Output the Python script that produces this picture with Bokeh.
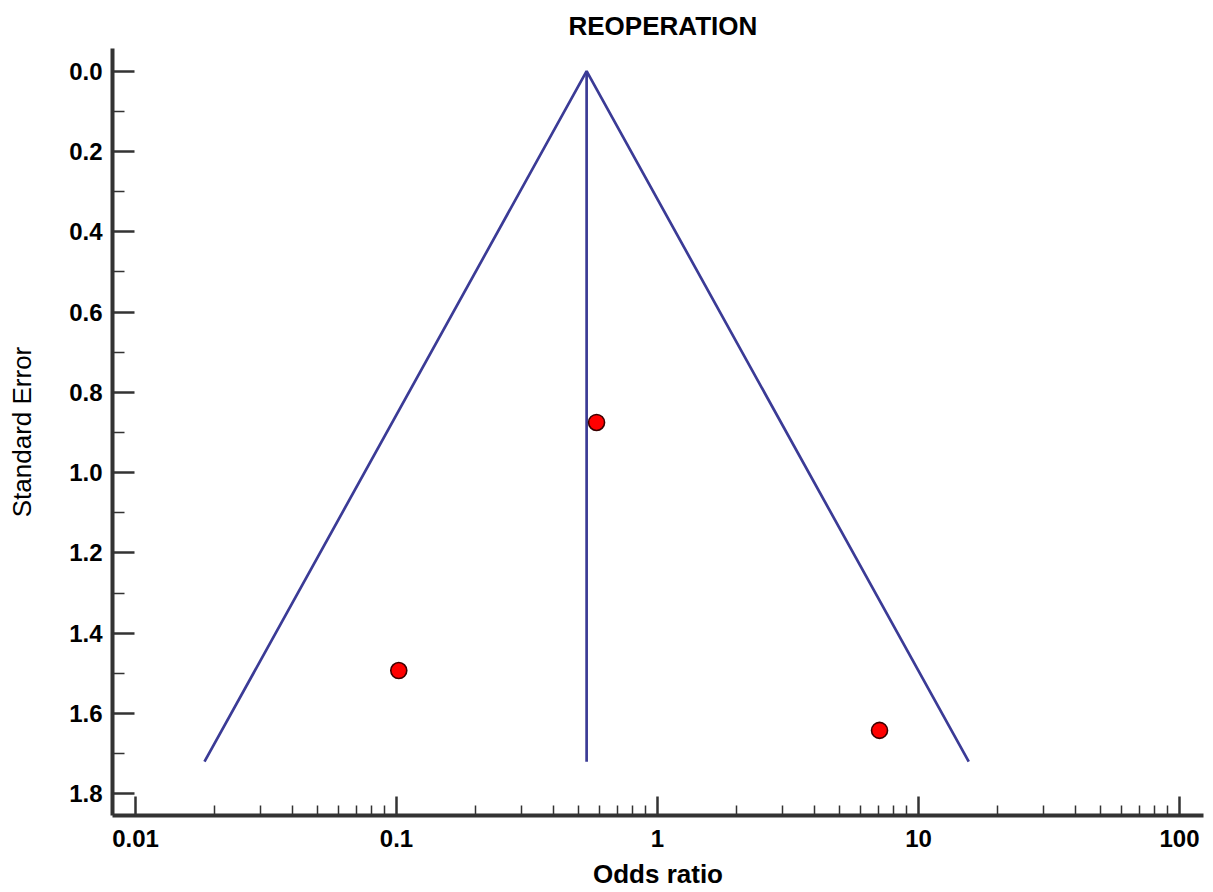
import numpy as np
from bokeh.plotting import figure
from bokeh.models import Range1d, FixedTicker, CustomJSTickFormatter, PrintfTickFormatter, ColumnDataSource
from bokeh.embed import file_html
from bokeh.resources import INLINE

# ---- data ----
study_or = [0.584, 0.102, 7.09]
study_se = [0.875, 1.493, 1.642]

pooled_or = 0.535
max_se = 1.72
funnel_or = [0.01837, 0.535, 15.58]
funnel_se = [1.72, 0.0, 1.72]

x_ticks = [0.01, 0.1, 1, 10, 100]
x_tick_labels = ["0.01", "0.1", "1", "10", "100"]
x_minor = [m * 10.0 ** k for k in range(-2, 2) for m in range(2, 10)]
y_ticks = [0.0, 0.2, 0.4, 0.6, 0.8, 1.0, 1.2, 1.4, 1.6, 1.8]
y_minor = [0.1, 0.3, 0.5, 0.7, 0.9, 1.1, 1.3, 1.5, 1.7]

FONT = "Liberation Sans"
AXIS_COL = "#333333"
LINE_COL = "#3b3b96"

p = figure(width=1213, height=892, x_axis_type="log",
           x_range=Range1d(0.00816, 123.6), y_range=Range1d(1.854, -0.0565),
           output_backend="svg", toolbar_location=None,
           min_border_left=112, min_border_right=10, min_border_top=48, min_border_bottom=77)

p.title.text = "REOPERATION"
p.title.text_font = FONT
p.title.text_font_size = "26px"
p.title.text_font_style = "bold"
p.title.align = "left"
p.title.offset = 456
p.title.text_color = "black"
p.title.standoff = 16

p.grid.visible = False
p.outline_line_color = None
p.background_fill_color = "white"
p.border_fill_color = "white"

# funnel
src_f = ColumnDataSource(dict(x=funnel_or, y=funnel_se))
p.line("x", "y", source=src_f, line_color=LINE_COL, line_width=2.7)
p.line(x=[pooled_or, pooled_or], y=[0.0, max_se], line_color=LINE_COL, line_width=2.7)

# studies
src_s = ColumnDataSource(dict(x=study_or, y=study_se))
p.scatter("x", "y", source=src_s, size=16, fill_color="#ff0000",
          line_color="#3a0000", line_width=1.6)

# x axis
xa = p.xaxis[0]
xa.ticker = FixedTicker(ticks=x_ticks, minor_ticks=x_minor)
xa.formatter = CustomJSTickFormatter(args=dict(vals=x_ticks, labs=x_tick_labels), code="""
for (let i = 0; i < vals.length; i++) {
  if (Math.abs(Math.log10(tick) - Math.log10(vals[i])) < 1e-6) return labs[i];
}
return tick.toString();
""")
xa.axis_label = "Odds ratio"
xa.axis_line_width = 4
xa.axis_line_color = AXIS_COL
xa.major_tick_in = 19
xa.major_tick_out = 0
xa.minor_tick_in = 10
xa.minor_tick_out = 0
xa.major_tick_line_width = 2.5
xa.minor_tick_line_width = 1.5
xa.major_tick_line_color = AXIS_COL
xa.minor_tick_line_color = AXIS_COL
xa.major_label_standoff = 14
xa.axis_label_standoff = 9
xa.axis_label_text_font_style = "bold"

# y axis
ya = p.yaxis[0]
ya.ticker = FixedTicker(ticks=y_ticks, minor_ticks=y_minor)
ya.formatter = PrintfTickFormatter(format="%.1f")
ya.axis_label = "Standard Error"
ya.axis_line_width = 4
ya.axis_line_color = AXIS_COL
ya.major_tick_in = 22
ya.major_tick_out = 0
ya.minor_tick_in = 12
ya.minor_tick_out = 0
ya.major_tick_line_width = 2.5
ya.minor_tick_line_width = 1.5
ya.major_tick_line_color = AXIS_COL
ya.minor_tick_line_color = AXIS_COL
ya.major_label_standoff = 10
ya.axis_label_standoff = 29
ya.axis_label_text_font_style = "normal"

for ax in (xa, ya):
    ax.major_label_text_font = FONT
    ax.major_label_text_font_size = "24px"
    ax.major_label_text_font_style = "bold"
    ax.major_label_text_color = "black"
    ax.axis_label_text_font = FONT
    ax.axis_label_text_font_size = "26px"
    ax.axis_label_text_color = "black"

open("out.html", "w").write(file_html(p, INLINE))
